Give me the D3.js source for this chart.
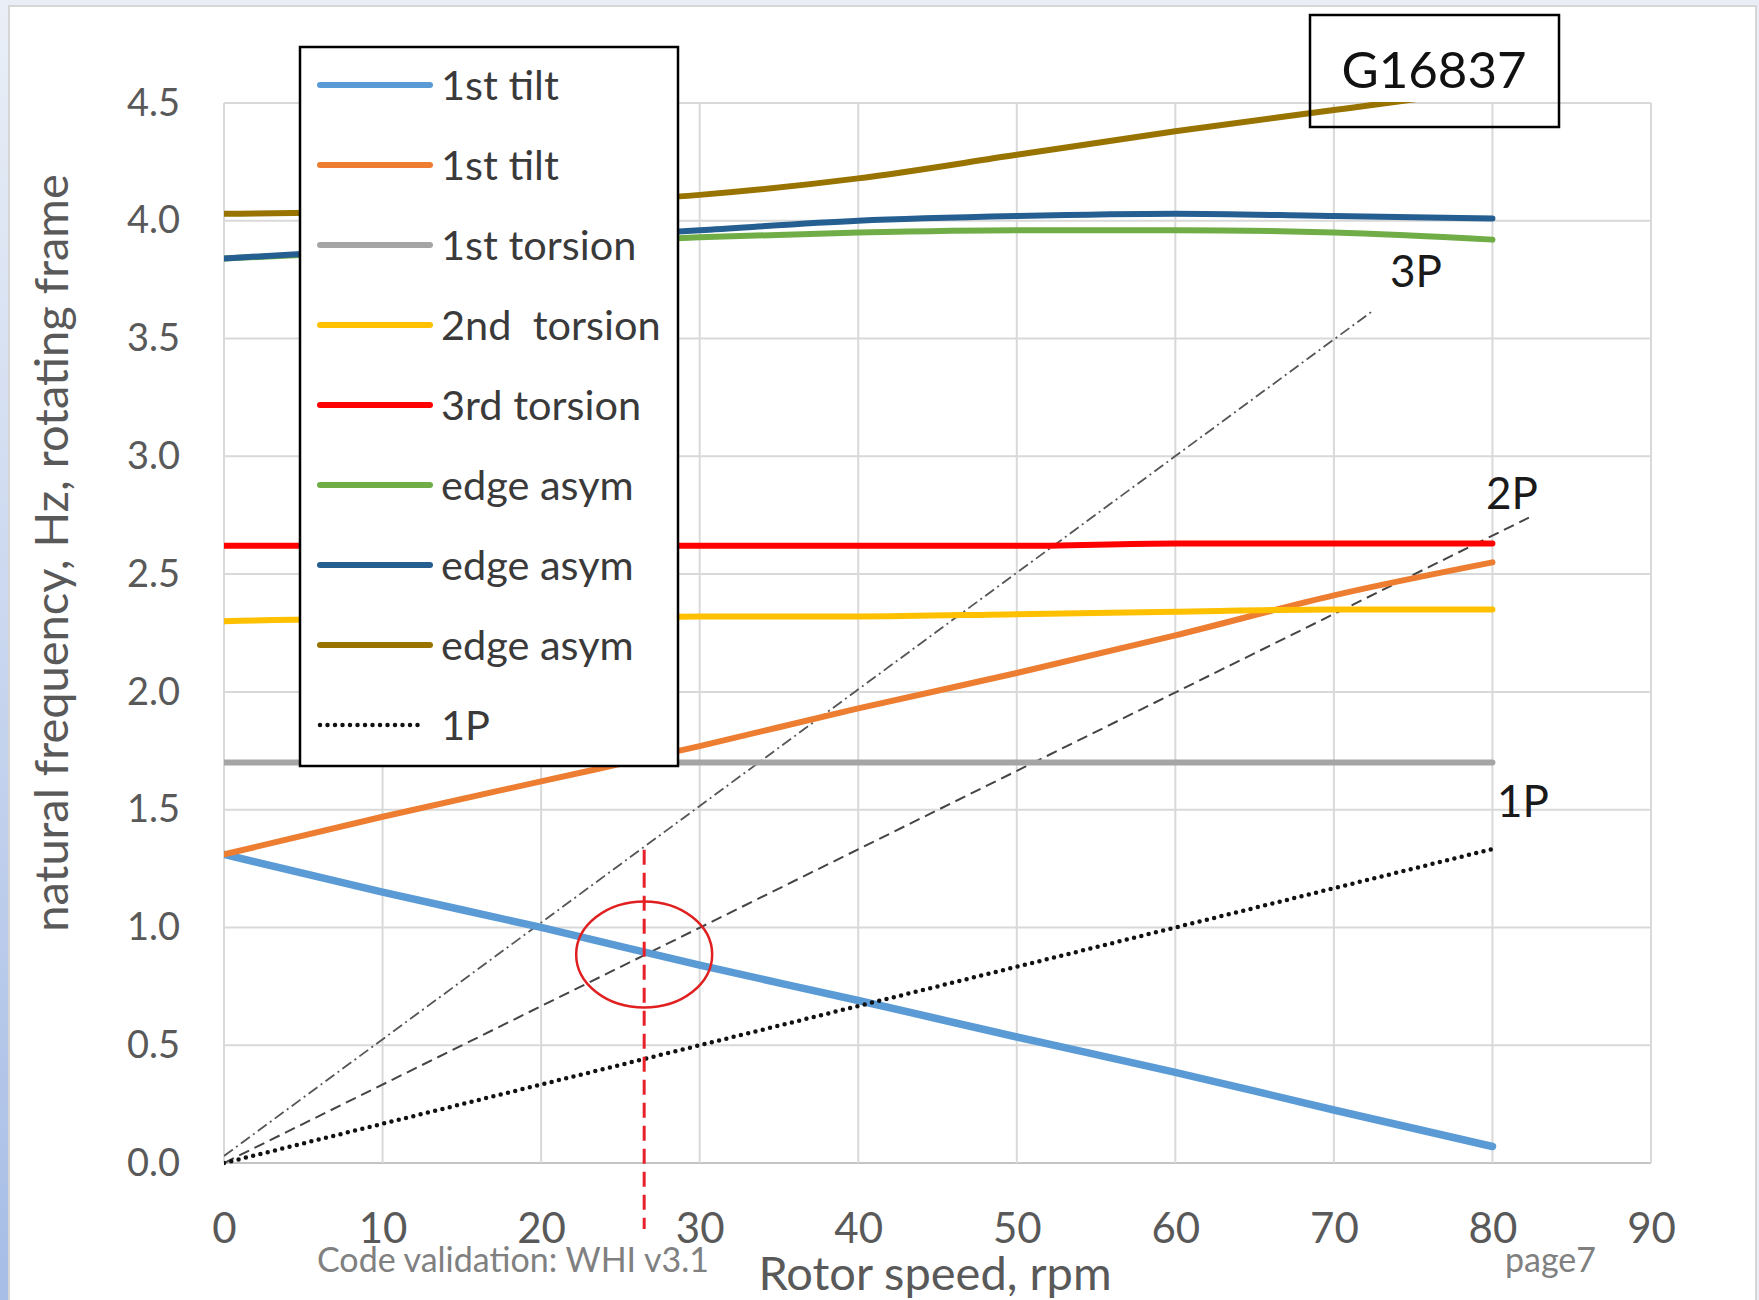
<!DOCTYPE html>
<html>
<head>
<meta charset="utf-8">
<script src="https://cdn.jsdelivr.net/npm/d3@7"></script>
<style>
  body { margin:0; padding:0; background:#fff; }
  svg text { font-family: Lato, "Open Sans", sans-serif; }
</style>
</head>
<body>
<script>
//SCREEN PROPERTIES
var screenwidth=1759, screenheight=1300;

//DATA
var rpm=[0,10,20,30,40,50,60,70,80];
var tiltBack=[1.31,1.15,1.00,0.84,0.69,0.535,0.385,0.225,0.07];
var tiltFwd=[1.31,1.47,1.62,1.77,1.93,2.08,2.24,2.41,2.55];
var torsion1=[1.70,1.70,1.70,1.70,1.70,1.70,1.70,1.70,1.70];
var torsion2=[2.30,2.31,2.31,2.32,2.32,2.33,2.34,2.35,2.35];
var torsion3=[2.62,2.62,2.62,2.62,2.62,2.62,2.63,2.63,2.63];
var edgeA=[3.84,3.87,3.90,3.93,3.95,3.96,3.96,3.95,3.92];
var edgeB=[3.84,3.88,3.92,3.96,4.00,4.02,4.03,4.02,4.01];
var edgeC=[4.03,4.04,4.07,4.11,4.18,4.28,4.38,4.47,4.56];

var seriesNames=["1st tilt","1st tilt","1st torsion","2nd  torsion","3rd torsion","edge asym","edge asym","edge asym"];
var seriesColors=["#5b9bd5","#ed7d31","#a5a5a5","#ffc000","#ff0000","#70ad47","#255e91","#997300"];
var seriesValues=[tiltBack,tiltFwd,torsion1,torsion2,torsion3,edgeA,edgeB,edgeC];

//per-rev excitation lines
var p1Rpm=[0,80], p1Hz=[0,1.333];
var p2Rpm=[0,82.3], p2Hz=[0,2.74];
var p3Rpm=[0,72.5], p3Hz=[0.03,3.62];

//marked operating point
var markRpm=26.5, markHz=0.885;
var markLineHz=[1.33,-0.28];

var xTicks=[0,10,20,30,40,50,60,70,80,90];
var yTicks=[0,0.5,1,1.5,2,2.5,3,3.5,4,4.5];

//PLOT AREA (note: "top" is taken by window.top)
var pLeft=224, pRight=1651, pTop=103, pBottom=1163;

var svg=d3.select("body").append("svg")
  .attr("width",screenwidth)
  .attr("height",screenheight);

//slide frame
var defs=svg.append("defs");
var grad=defs.append("linearGradient").attr("id","edge").attr("x1",0).attr("y1",0).attr("x2",0).attr("y2",1);
grad.append("stop").attr("offset","0%").attr("stop-color","#eaeff7");
grad.append("stop").attr("offset","100%").attr("stop-color","#a7bde6");
svg.append("rect").attr("width",screenwidth).attr("height",screenheight).attr("fill","#e9eef6");
svg.append("rect").attr("x",0).attr("y",0).attr("width",8).attr("height",screenheight).attr("fill","url(#edge)");
svg.append("rect").attr("x",9).attr("y",6).attr("width",1747).attr("height",1300)
  .attr("fill","#fff").attr("stroke","#d6d6d6").attr("stroke-width",2);

defs.append("clipPath").attr("id","plotclip").append("rect")
  .attr("x",pLeft).attr("y",pTop-1).attr("width",pRight-pLeft).attr("height",pBottom-pTop+5);

var x=d3.scaleLinear().domain([0,90]).range([pLeft,pRight]);
var y=d3.scaleLinear().domain([0,4.5]).range([pBottom,pTop]);

//GRID
svg.append("g").selectAll("line").data(yTicks).enter().append("line")
  .attr("x1",pLeft).attr("x2",pRight)
  .attr("y1",function(d){return y(d);}).attr("y2",function(d){return y(d);})
  .attr("stroke",function(d){return d===0?"#c4c4c4":"#d9d9d9";}).attr("stroke-width",2);
svg.append("g").selectAll("line").data(xTicks).enter().append("line")
  .attr("y1",pTop).attr("y2",pBottom)
  .attr("x1",function(d){return x(d);}).attr("x2",function(d){return x(d);})
  .attr("stroke","#d9d9d9").attr("stroke-width",2);

//AXES
var yAxis=svg.append("g").attr("transform","translate("+pLeft+",0)")
  .call(d3.axisLeft(y).tickValues(yTicks).tickSize(0).tickPadding(44).tickFormat(d3.format(".1f")));
yAxis.select(".domain").remove();
yAxis.selectAll("text").attr("font-size",38).attr("fill","#595959");

var xAxis=svg.append("g").attr("transform","translate(0,"+pBottom+")")
  .call(d3.axisBottom(x).tickValues(xTicks).tickSize(0).tickPadding(50));
xAxis.select(".domain").remove();
xAxis.selectAll("text").attr("font-size",42).attr("fill","#595959");

svg.append("text").attr("transform","translate(68,553) rotate(-90)")
  .attr("text-anchor","middle").attr("font-size",47).attr("fill","#595959")
  .text("natural frequency, Hz, rotating frame");
svg.append("text").attr("x",935).attr("y",1290)
  .attr("text-anchor","middle").attr("font-size",47).attr("fill","#595959")
  .text("Rotor speed, rpm");

//EXCITATION LINES
var plot=svg.append("g").attr("clip-path","url(#plotclip)");
var straight=d3.line().x(function(d){return x(d[0]);}).y(function(d){return y(d[1]);});
plot.append("path").datum(d3.zip(p3Rpm,p3Hz)).attr("d",straight)
  .attr("fill","none").attr("stroke","#555").attr("stroke-width",1.8).attr("stroke-dasharray","11,4,2,4");
plot.append("path").datum(d3.zip(p2Rpm,p2Hz)).attr("d",straight)
  .attr("fill","none").attr("stroke","#444").attr("stroke-width",2).attr("stroke-dasharray","11,6");

//MODE CURVES
var smooth=d3.line().curve(d3.curveMonotoneX)
  .x(function(d){return x(d[0]);}).y(function(d){return y(d[1]);});
seriesValues.forEach(function(vals,i){
  plot.append("path").datum(d3.zip(rpm,vals)).attr("d",smooth)
    .attr("fill","none").attr("stroke",seriesColors[i])
    .attr("stroke-width",i===0?7.5:6).attr("stroke-linecap","round");
});

plot.append("path").datum(d3.zip(p1Rpm,p1Hz)).attr("d",straight)
  .attr("fill","none").attr("stroke","#111").attr("stroke-width",4.5)
  .attr("stroke-linecap","round").attr("stroke-dasharray","0,7.5");

//MARKED POINT
svg.append("line").attr("x1",x(markRpm)).attr("x2",x(markRpm))
  .attr("y1",y(markLineHz[0])).attr("y2",y(markLineHz[1]))
  .attr("stroke","#e8202a").attr("stroke-width",3).attr("stroke-dasharray","15,8");
svg.append("ellipse").attr("cx",x(markRpm)).attr("cy",y(markHz))
  .attr("rx",68).attr("ry",53).attr("fill","none").attr("stroke","#e02020").attr("stroke-width",2.5);

//LABELS ON LINES
var harmLabels=[["3P",1416,287],["2P",1512,509],["1P",1523,817]];
svg.selectAll(".harm").data(harmLabels).enter().append("text")
  .attr("x",function(d){return d[1];}).attr("y",function(d){return d[2];})
  .attr("text-anchor","middle").attr("font-size",44).attr("fill","#1a1a1a")
  .text(function(d){return d[0];});

//LEGEND
var leg=svg.append("g");
leg.append("rect").attr("x",300).attr("y",47).attr("width",378).attr("height",719)
  .attr("fill","#fff").attr("stroke","#000").attr("stroke-width",2.5);
var legItems=seriesNames.map(function(n,i){return {name:n,color:seriesColors[i],dot:false};});
legItems.push({name:"1P",color:"#111",dot:true});
var li=leg.selectAll(".li").data(legItems).enter().append("g")
  .attr("transform",function(d,i){return "translate(0,"+(85+i*80)+")";});
li.append("line").attr("x1",320).attr("x2",function(d){return d.dot?422:430})
  .attr("stroke",function(d){return d.color;})
  .attr("stroke-width",function(d){return d.dot?4.5:6;})
  .attr("stroke-linecap","round")
  .attr("stroke-dasharray",function(d){return d.dot?"0,7.5":null;});
li.append("text").attr("x",441).attr("dy","0.35em").attr("font-size",41.5).attr("fill","#3a3a3a")
  .style("white-space","pre")
  .text(function(d){return d.name;});

//ID BOX
svg.append("rect").attr("x",1310).attr("y",15).attr("width",249).attr("height",112)
  .attr("fill","none").attr("stroke","#000").attr("stroke-width",2.5);
svg.append("text").attr("x",1434).attr("y",88).attr("text-anchor","middle")
  .attr("font-size",51).attr("fill","#111").text("G16837");

//FOOTER
svg.append("text").attr("x",317).attr("y",1272).attr("font-size",34).attr("fill","#808080")
  .text("Code validation: WHI v3.1");
svg.append("text").attr("x",1505).attr("y",1272).attr("font-size",34).attr("fill","#808080")
  .text("page7");
</script>
</body>
</html>
